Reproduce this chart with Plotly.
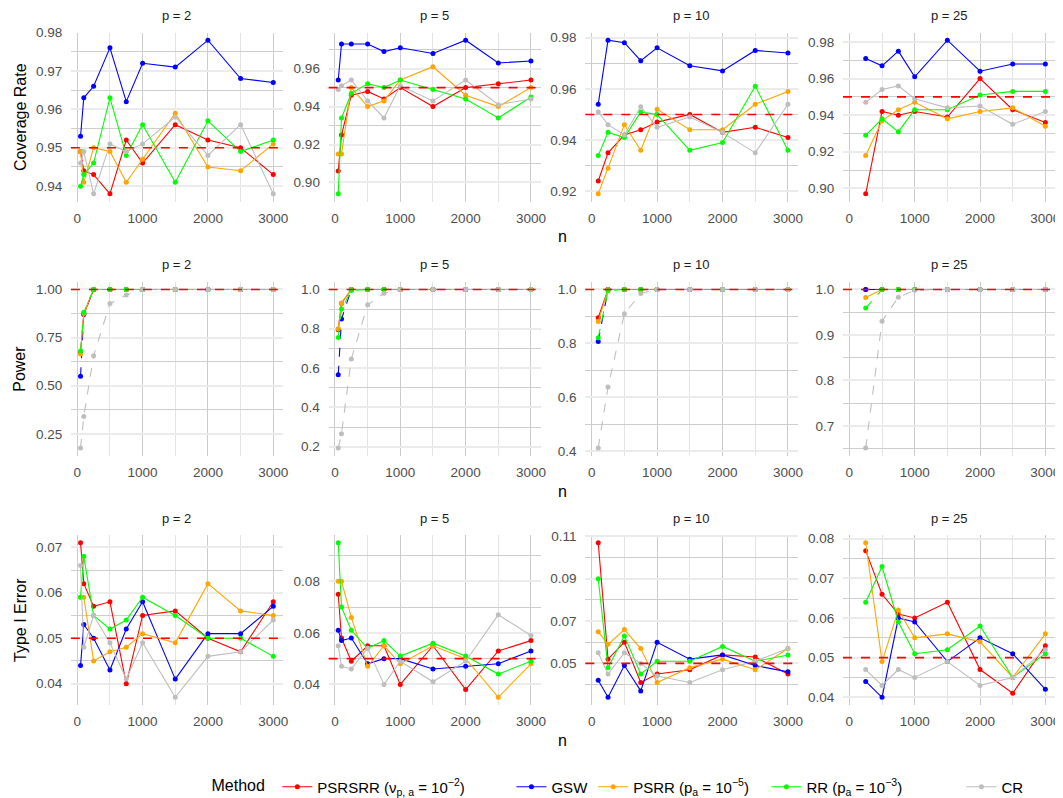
import plotly.graph_objects as go

# ---------------- data ----------------
n_p2 = [50, 100, 250, 500, 750, 1000, 1500, 2000, 2500, 3000]
n_p5 = [50, 100, 250, 500, 750, 1000, 1500, 2000, 2500, 3000]
n_p10 = [100, 250, 500, 750, 1000, 1500, 2000, 2500, 3000]
n_p25 = [250, 500, 750, 1000, 1500, 2000, 2500, 3000]

p_labels = ["p = 2", "p = 5", "p = 10", "p = 25"]
method_names = ["PSRSRR", "GSW", "PSRR", "RR", "CR"]
legend_labels = [
    "PSRSRR (ν<sub>p, a</sub> = 10<sup>−2</sup>)",
    "GSW",
    "PSRR (p<sub>a</sub> = 10<sup>−5</sup>)",
    "RR (p<sub>a</sub> = 10<sup>−3</sup>)",
    "CR",
]
legend_pad = [10, 0, 3, 13, 0]
row_titles = ["Coverage Rate", "Power", "Type I Error"]
targets = [0.95, 1.0, 0.05]

# Coverage rate
cov_p2_psrsrr = [0.949, 0.944, 0.943, 0.938, 0.952, 0.946, 0.956, 0.952, 0.950, 0.943]
cov_p2_gsw = [0.953, 0.963, 0.966, 0.976, 0.962, 0.972, 0.971, 0.978, 0.968, 0.967]
cov_p2_psrr = [0.949, 0.941, 0.950, 0.949, 0.941, 0.947, 0.959, 0.945, 0.944, 0.951]
cov_p2_rr = [0.940, 0.943, 0.946, 0.963, 0.948, 0.956, 0.941, 0.957, 0.949, 0.952]
cov_p2_cr = [0.946, 0.949, 0.938, 0.951, 0.949, 0.951, 0.958, 0.948, 0.956, 0.938]

cov_p5_psrsrr = [0.906, 0.925, 0.946, 0.948, 0.944, 0.950, 0.940, 0.950, 0.952, 0.954]
cov_p5_gsw = [0.954, 0.973, 0.973, 0.973, 0.969, 0.971, 0.968, 0.975, 0.963, 0.964]
cov_p5_psrr = [0.915, 0.915, 0.950, 0.940, 0.943, 0.954, 0.961, 0.946, 0.940, 0.950]
cov_p5_rr = [0.894, 0.934, 0.947, 0.952, 0.950, 0.954, 0.949, 0.944, 0.934, 0.945]
cov_p5_cr = [0.949, 0.951, 0.954, 0.943, 0.934, 0.951, 0.943, 0.954, 0.941, 0.944]

cov_p10_psrsrr = [0.924, 0.935, 0.942, 0.944, 0.947, 0.950, 0.943, 0.945, 0.941]
cov_p10_gsw = [0.954, 0.979, 0.978, 0.971, 0.976, 0.969, 0.967, 0.975, 0.974]
cov_p10_psrr = [0.919, 0.929, 0.946, 0.936, 0.952, 0.944, 0.944, 0.954, 0.959]
cov_p10_rr = [0.934, 0.943, 0.941, 0.951, 0.950, 0.936, 0.939, 0.961, 0.936]
cov_p10_cr = [0.951, 0.946, 0.942, 0.953, 0.945, 0.949, 0.943, 0.935, 0.954]

cov_p25_psrsrr = [0.897, 0.942, 0.940, 0.942, 0.939, 0.960, 0.943, 0.936]
cov_p25_gsw = [0.971, 0.967, 0.975, 0.961, 0.981, 0.964, 0.968, 0.968]
cov_p25_psrr = [0.918, 0.937, 0.943, 0.947, 0.938, 0.942, 0.944, 0.934]
cov_p25_rr = [0.929, 0.938, 0.931, 0.943, 0.943, 0.951, 0.953, 0.953]
cov_p25_cr = [0.947, 0.954, 0.956, 0.949, 0.944, 0.945, 0.935, 0.942]

# Power
pow_p2_psrsrr = [0.673, 0.870, 1.0, 1.0, 1.0, 1.0, 1.0, 1.0, 1.0, 1.0]
pow_p2_gsw = [0.549, 0.872, 1.0, 1.0, 1.0, 1.0, 1.0, 1.0, 1.0, 1.0]
pow_p2_psrr = [0.665, 0.875, 1.0, 1.0, 1.0, 1.0, 1.0, 1.0, 1.0, 1.0]
pow_p2_rr = [0.680, 0.881, 1.0, 1.0, 1.0, 1.0, 1.0, 1.0, 1.0, 1.0]
pow_p2_cr = [0.176, 0.340, 0.656, 0.927, 0.971, 1.0, 1.0, 1.0, 1.0, 1.0]

pow_p5_psrsrr = [0.795, 0.930, 1.0, 1.0, 1.0, 1.0, 1.0, 1.0, 1.0, 1.0]
pow_p5_gsw = [0.566, 0.849, 1.0, 1.0, 1.0, 1.0, 1.0, 1.0, 1.0, 1.0]
pow_p5_psrr = [0.800, 0.930, 1.0, 1.0, 1.0, 1.0, 1.0, 1.0, 1.0, 1.0]
pow_p5_rr = [0.756, 0.900, 0.995, 1.0, 1.0, 1.0, 1.0, 1.0, 1.0, 1.0]
pow_p5_cr = [0.193, 0.266, 0.646, 0.922, 0.980, 1.0, 1.0, 1.0, 1.0, 1.0]

pow_p10_psrsrr = [0.895, 1.0, 1.0, 1.0, 1.0, 1.0, 1.0, 1.0, 1.0]
pow_p10_gsw = [0.807, 1.0, 1.0, 1.0, 1.0, 1.0, 1.0, 1.0, 1.0]
pow_p10_psrr = [0.881, 1.0, 1.0, 1.0, 1.0, 1.0, 1.0, 1.0, 1.0]
pow_p10_rr = [0.821, 0.995, 1.0, 1.0, 1.0, 1.0, 1.0, 1.0, 1.0]
pow_p10_cr = [0.412, 0.638, 0.910, 0.985, 1.0, 1.0, 1.0, 1.0, 1.0]

pow_p25_psrsrr = [1.0, 1.0, 1.0, 1.0, 1.0, 1.0, 1.0, 1.0]
pow_p25_gsw = [1.0, 1.0, 1.0, 1.0, 1.0, 1.0, 1.0, 1.0]
pow_p25_psrr = [0.982, 1.0, 1.0, 1.0, 1.0, 1.0, 1.0, 1.0]
pow_p25_rr = [0.959, 1.0, 1.0, 1.0, 1.0, 1.0, 1.0, 1.0]
pow_p25_cr = [0.651, 0.930, 0.983, 0.998, 1.0, 1.0, 1.0, 1.0]

# Type I error
t1e_p2_psrsrr = [0.071, 0.062, 0.057, 0.058, 0.040, 0.055, 0.056, 0.050, 0.047, 0.058]
t1e_p2_gsw = [0.044, 0.053, 0.050, 0.043, 0.052, 0.058, 0.041, 0.051, 0.051, 0.057]
t1e_p2_psrr = [0.059, 0.059, 0.045, 0.047, 0.048, 0.051, 0.049, 0.062, 0.056, 0.055]
t1e_p2_rr = [0.059, 0.068, 0.055, 0.052, 0.054, 0.059, 0.055, 0.050, 0.050, 0.046]
t1e_p2_cr = [0.066, 0.048, 0.055, 0.049, 0.041, 0.049, 0.037, 0.046, 0.047, 0.054]

t1e_p5_psrsrr = [0.075, 0.058, 0.049, 0.055, 0.055, 0.040, 0.055, 0.038, 0.053, 0.057]
t1e_p5_gsw = [0.061, 0.057, 0.058, 0.048, 0.050, 0.050, 0.046, 0.047, 0.048, 0.053]
t1e_p5_psrr = [0.080, 0.080, 0.066, 0.047, 0.055, 0.048, 0.055, 0.050, 0.035, 0.048]
t1e_p5_rr = [0.095, 0.070, 0.061, 0.054, 0.057, 0.051, 0.056, 0.051, 0.044, 0.049]
t1e_p5_cr = [0.055, 0.047, 0.046, 0.054, 0.040, 0.049, 0.041, 0.049, 0.067, 0.059]

t1e_p10_psrsrr = [0.107, 0.052, 0.060, 0.041, 0.045, 0.047, 0.054, 0.053, 0.045]
t1e_p10_gsw = [0.042, 0.034, 0.049, 0.037, 0.060, 0.052, 0.054, 0.049, 0.046]
t1e_p10_psrr = [0.065, 0.059, 0.066, 0.057, 0.041, 0.048, 0.052, 0.047, 0.057]
t1e_p10_rr = [0.090, 0.048, 0.063, 0.045, 0.051, 0.051, 0.058, 0.051, 0.054]
t1e_p10_cr = [0.055, 0.045, 0.055, 0.050, 0.044, 0.041, 0.047, 0.051, 0.057]

t1e_p25_psrsrr = [0.077, 0.066, 0.061, 0.060, 0.064, 0.047, 0.041, 0.053]
t1e_p25_gsw = [0.044, 0.040, 0.060, 0.059, 0.049, 0.055, 0.051, 0.042]
t1e_p25_psrr = [0.079, 0.049, 0.062, 0.055, 0.056, 0.054, 0.045, 0.056]
t1e_p25_rr = [0.064, 0.073, 0.059, 0.051, 0.052, 0.058, 0.045, 0.051]
t1e_p25_cr = [0.047, 0.043, 0.047, 0.045, 0.049, 0.043, 0.045, 0.052]

n_by_col = [n_p2, n_p5, n_p10, n_p25]
data = [
    [
        [cov_p2_psrsrr, cov_p2_gsw, cov_p2_psrr, cov_p2_rr, cov_p2_cr],
        [cov_p5_psrsrr, cov_p5_gsw, cov_p5_psrr, cov_p5_rr, cov_p5_cr],
        [cov_p10_psrsrr, cov_p10_gsw, cov_p10_psrr, cov_p10_rr, cov_p10_cr],
        [cov_p25_psrsrr, cov_p25_gsw, cov_p25_psrr, cov_p25_rr, cov_p25_cr],
    ],
    [
        [pow_p2_psrsrr, pow_p2_gsw, pow_p2_psrr, pow_p2_rr, pow_p2_cr],
        [pow_p5_psrsrr, pow_p5_gsw, pow_p5_psrr, pow_p5_rr, pow_p5_cr],
        [pow_p10_psrsrr, pow_p10_gsw, pow_p10_psrr, pow_p10_rr, pow_p10_cr],
        [pow_p25_psrsrr, pow_p25_gsw, pow_p25_psrr, pow_p25_rr, pow_p25_cr],
    ],
    [
        [t1e_p2_psrsrr, t1e_p2_gsw, t1e_p2_psrr, t1e_p2_rr, t1e_p2_cr],
        [t1e_p5_psrsrr, t1e_p5_gsw, t1e_p5_psrr, t1e_p5_rr, t1e_p5_cr],
        [t1e_p10_psrsrr, t1e_p10_gsw, t1e_p10_psrr, t1e_p10_rr, t1e_p10_cr],
        [t1e_p25_psrsrr, t1e_p25_gsw, t1e_p25_psrr, t1e_p25_rr, t1e_p25_cr],
    ],
]

# ---------------- style ----------------
colors = ["#FF0000", "#0000FF", "#FFA500", "#00FF00", "#BEBEBE"]
power_dash = ["solid", "dash", "solid", "dash", "dash"]

y_dtick = [[0.01, 0.02, 0.02, 0.02], [0.25, 0.2, 0.2, 0.1], [0.01, 0.02, 0.02, 0.01]]
y_tick0 = [[0, 0, 0, 0], [0, 0, 0, 0], [0, 0, 0.01, 0]]
y_fmt = [[".2f"] * 4, [".2f", ".1f", ".1f", ".1f"], [".2f"] * 4]

# page body adds an 8px offset; work in window pixels and subtract it
OFF = 8
W, H = 1063 - OFF, 798 - OFF
col_win = [(70.9, 282.9), (328.6, 540.6), (585.3, 797.6), (843.0, 1055.0)]
row_win = [(32.5, 201.5), (281.5, 456.0), (535.0, 705.0)]
col_px = [(a - OFF, b - OFF) for a, b in col_win]
row_px = [(a - OFF, b - OFF) for a, b in row_win]
x_range = [-97.5, 3147.5]

FONT = "Liberation Sans, Arial, Helvetica, sans-serif"

fig = go.Figure()
layout = {}
annotations = []
shapes = []

for r in range(3):
    for c in range(4):
        k = r * 4 + c + 1
        xa = "x" if k == 1 else f"x{k}"
        ya = "y" if k == 1 else f"y{k}"
        xs = n_by_col[c]
        allv = [targets[r]]
        for m in range(5):
            ys = data[r][c][m]
            allv += ys
            dash = power_dash[m] if r == 1 else "solid"
            fig.add_trace(go.Scatter(
                x=xs, y=ys, mode="lines+markers",
                name=legend_labels[m] + "&nbsp;" * legend_pad[m],
                legendgroup=method_names[m],
                showlegend=(k == 1),
                line=dict(color=colors[m], width=1.1, dash=dash),
                marker=dict(color=colors[m], size=5),
                xaxis=xa, yaxis=ya,
            ))
        lo, hi = min(allv), max(allv)
        pad = (hi - lo) * 0.05
        x0, x1 = col_px[c]
        y0, y1 = row_px[r]
        layout["xaxis" if k == 1 else f"xaxis{k}"] = dict(
            domain=[x0 / W, x1 / W], anchor=ya, range=x_range,
            tickmode="linear", tick0=0, dtick=1000,
            showgrid=True, gridcolor="#CCCCCC", gridwidth=1.2,
            minor=dict(dtick=500, tick0=0, showgrid=True, gridcolor="#E3E3E3", gridwidth=1.2),
            zeroline=False, showline=False, automargin=False,
            ticklabeloverflow="allow",
            ticks="outside", ticklen=4, tickcolor="rgba(0,0,0,0)",
            tickfont=dict(family=FONT, size=13.5, color="#4D4D4D"),
        )
        layout["yaxis" if k == 1 else f"yaxis{k}"] = dict(
            domain=[1 - y1 / H, 1 - y0 / H], anchor=xa, range=[lo - pad, hi + pad],
            tickmode="linear", tick0=y_tick0[r][c], dtick=y_dtick[r][c],
            tickformat=y_fmt[r][c],
            showgrid=True, gridcolor="#EBEBEB", gridwidth=2,
            minor=dict(dtick=y_dtick[r][c] / 2, tick0=y_tick0[r][c], showgrid=True,
                       gridcolor="#CDCDCD", gridwidth=1.0),
            zeroline=False, showline=False, automargin=False,
            ticklabeloverflow="allow",
            ticks="outside", ticklen=5, tickcolor="rgba(0,0,0,0)",
            tickfont=dict(family=FONT, size=13.5, color="#4D4D4D"),
        )
        shapes.append(dict(
            type="line", xref=f"{xa} domain", x0=0, x1=1,
            yref=ya, y0=targets[r], y1=targets[r],
            line=dict(color="#FF0000", width=1.6, dash="dash"), layer="above",
        ))
        annotations.append(dict(
            text=p_labels[c], x=(x0 + x1) / 2 / W, y=1 - (y0 - 17) / H,
            xref="paper", yref="paper", showarrow=False,
            xanchor="center", yanchor="middle",
            font=dict(family=FONT, size=13, color="#1A1A1A"),
        ))
    # row titles
    y0, y1 = row_px[r]
    annotations.append(dict(
        text=row_titles[r], x=(20 - OFF) / W, y=1 - (y0 + y1) / 2 / H,
        xref="paper", yref="paper", showarrow=False, textangle=-90,
        xanchor="center", yanchor="middle",
        font=dict(family=FONT, size=16, color="#000000"),
    ))
    annotations.append(dict(
        text="n", x=(col_px[0][0] + col_px[3][1]) / 2 / W, y=1 - (y1 + 35) / H,
        xref="paper", yref="paper", showarrow=False,
        xanchor="center", yanchor="middle",
        font=dict(family=FONT, size=16, color="#000000"),
    ))

fig.update_layout(
    width=W, height=H,
    margin=dict(l=0, r=0, t=0, b=0, autoexpand=False),
    paper_bgcolor="white", plot_bgcolor="white",
    font=dict(family=FONT),
    showlegend=True,
    legend=dict(
        orientation="h", x=(619 - OFF) / W, xanchor="center",
        y=1 - (787 - OFF) / H, yanchor="middle",
        title=dict(text="Method ", font=dict(family=FONT, size=16, color="#000000")),
        font=dict(family=FONT, size=15, color="#000000"),
        itemwidth=30, bgcolor="rgba(0,0,0,0)",
    ),
    annotations=annotations,
    shapes=shapes,
    **layout,
)

fig.write_html("out.html")
